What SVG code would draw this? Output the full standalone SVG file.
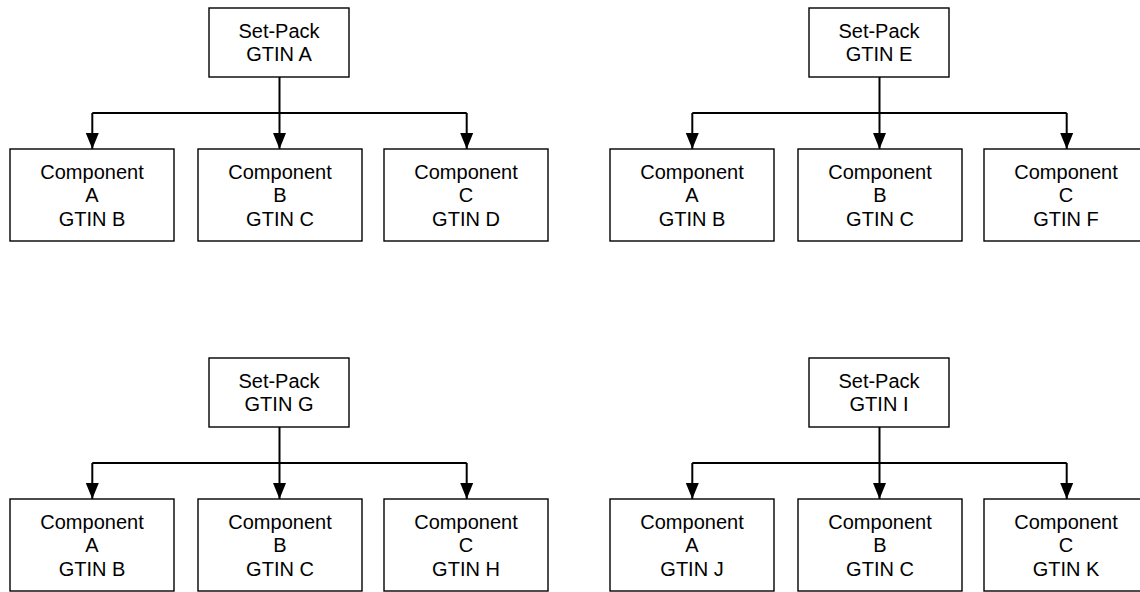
<svg xmlns="http://www.w3.org/2000/svg" width="1140" height="592" viewBox="0 0 1140 592">
<style>
.box{fill:#fff;stroke:#000;stroke-width:1.4}
.lbl{font-family:"Liberation Sans",Arial,sans-serif;font-size:20px;fill:#000;text-anchor:middle}
.con{fill:none;stroke:#000;stroke-width:2}
.arr{fill:none;stroke:#000;stroke-width:2;marker-end:url(#ah)}
</style>
<defs>
<marker id="ah" markerUnits="userSpaceOnUse" markerWidth="16" markerHeight="14" viewBox="0 0 16 14" refX="16" refY="7" orient="auto">
<path d="M0,0.5 L16,7 L0,13.5 z" fill="#000"/>
</marker>
</defs>
<rect width="1140" height="592" fill="#fff"/>
<g id="connectors">
<path class="con" d="M279.5,77 V113 M92.3,113 H466.7"/>
<path class="arr" d="M92.3,113 V149"/>
<path class="arr" d="M279.5,113 V149"/>
<path class="arr" d="M466.7,113 V149"/>
<path class="con" d="M879.5,77 V113 M692.3,113 H1066.7"/>
<path class="arr" d="M692.3,113 V149"/>
<path class="arr" d="M879.5,113 V149"/>
<path class="arr" d="M1066.7,113 V149"/>
<path class="con" d="M279.5,427 V463 M92.3,463 H466.7"/>
<path class="arr" d="M92.3,463 V499"/>
<path class="arr" d="M279.5,463 V499"/>
<path class="arr" d="M466.7,463 V499"/>
<path class="con" d="M879.5,427 V463 M692.3,463 H1066.7"/>
<path class="arr" d="M692.3,463 V499"/>
<path class="arr" d="M879.5,463 V499"/>
<path class="arr" d="M1066.7,463 V499"/>
</g>
<g id="setpack-a"><rect class="box" x="209" y="8" width="140" height="69"/><text class="lbl" x="279" y="38.3">Set-Pack</text><text class="lbl" x="279" y="61.3">GTIN A</text></g>
<g id="comp-a1"><rect class="box" x="10" y="149" width="164" height="92"/><text class="lbl" x="92" y="179">Component</text><text class="lbl" x="92" y="202">A</text><text class="lbl" x="92" y="225.5">GTIN B</text></g>
<g id="comp-b1"><rect class="box" x="198" y="149" width="164" height="92"/><text class="lbl" x="280" y="179">Component</text><text class="lbl" x="280" y="202">B</text><text class="lbl" x="280" y="225.5">GTIN C</text></g>
<g id="comp-c1"><rect class="box" x="384" y="149" width="164" height="92"/><text class="lbl" x="466" y="179">Component</text><text class="lbl" x="466" y="202">C</text><text class="lbl" x="466" y="225.5">GTIN D</text></g>
<g id="setpack-e"><rect class="box" x="809" y="8" width="140" height="69"/><text class="lbl" x="879" y="38.3">Set-Pack</text><text class="lbl" x="879" y="61.3">GTIN E</text></g>
<g id="comp-a2"><rect class="box" x="610" y="149" width="164" height="92"/><text class="lbl" x="692" y="179">Component</text><text class="lbl" x="692" y="202">A</text><text class="lbl" x="692" y="225.5">GTIN B</text></g>
<g id="comp-b2"><rect class="box" x="798" y="149" width="164" height="92"/><text class="lbl" x="880" y="179">Component</text><text class="lbl" x="880" y="202">B</text><text class="lbl" x="880" y="225.5">GTIN C</text></g>
<g id="comp-c2"><rect class="box" x="984" y="149" width="164" height="92"/><text class="lbl" x="1066" y="179">Component</text><text class="lbl" x="1066" y="202">C</text><text class="lbl" x="1066" y="225.5">GTIN F</text></g>
<g id="setpack-g"><rect class="box" x="209" y="358" width="140" height="69"/><text class="lbl" x="279" y="388.3">Set-Pack</text><text class="lbl" x="279" y="411.3">GTIN G</text></g>
<g id="comp-a3"><rect class="box" x="10" y="499" width="164" height="92"/><text class="lbl" x="92" y="529">Component</text><text class="lbl" x="92" y="552">A</text><text class="lbl" x="92" y="575.5">GTIN B</text></g>
<g id="comp-b3"><rect class="box" x="198" y="499" width="164" height="92"/><text class="lbl" x="280" y="529">Component</text><text class="lbl" x="280" y="552">B</text><text class="lbl" x="280" y="575.5">GTIN C</text></g>
<g id="comp-c3"><rect class="box" x="384" y="499" width="164" height="92"/><text class="lbl" x="466" y="529">Component</text><text class="lbl" x="466" y="552">C</text><text class="lbl" x="466" y="575.5">GTIN H</text></g>
<g id="setpack-i"><rect class="box" x="809" y="358" width="140" height="69"/><text class="lbl" x="879" y="388.3">Set-Pack</text><text class="lbl" x="879" y="411.3">GTIN I</text></g>
<g id="comp-a4"><rect class="box" x="610" y="499" width="164" height="92"/><text class="lbl" x="692" y="529">Component</text><text class="lbl" x="692" y="552">A</text><text class="lbl" x="692" y="575.5">GTIN J</text></g>
<g id="comp-b4"><rect class="box" x="798" y="499" width="164" height="92"/><text class="lbl" x="880" y="529">Component</text><text class="lbl" x="880" y="552">B</text><text class="lbl" x="880" y="575.5">GTIN C</text></g>
<g id="comp-c4"><rect class="box" x="984" y="499" width="164" height="92"/><text class="lbl" x="1066" y="529">Component</text><text class="lbl" x="1066" y="552">C</text><text class="lbl" x="1066" y="575.5">GTIN K</text></g>
</svg>
